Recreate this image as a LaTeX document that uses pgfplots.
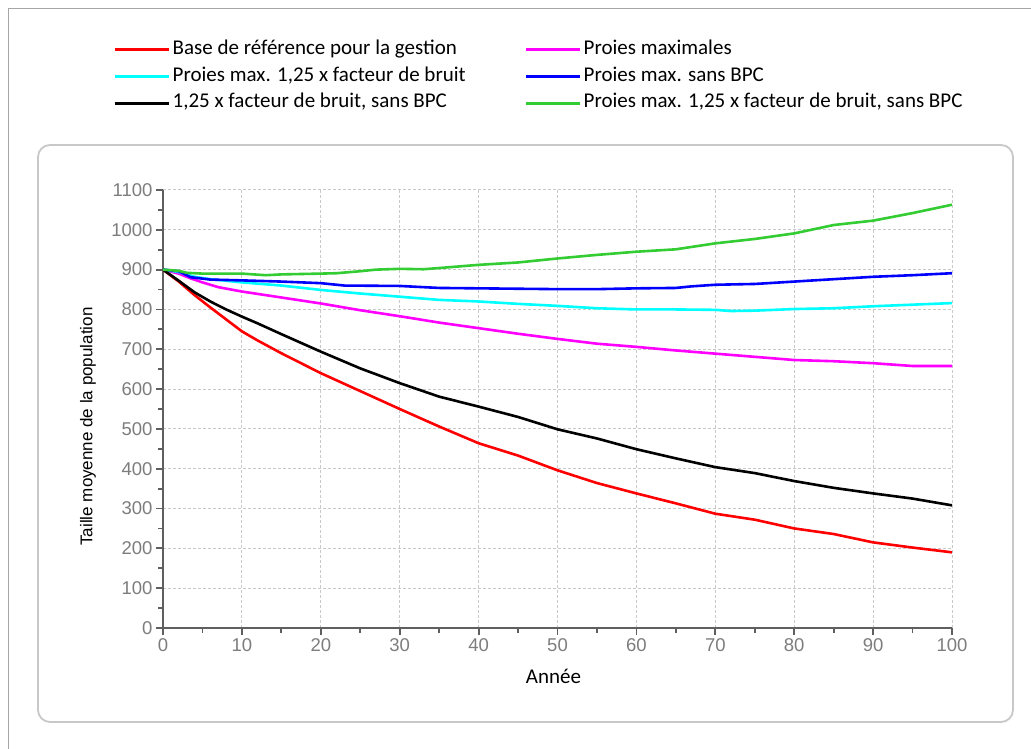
\documentclass[border=0pt]{standalone}
\usepackage{fontspec}
\setmainfont{Liberation Sans}
\newfontfamily\calibri{Carlito}
\usepackage{pgfplots}
\pgfplotsset{compat=1.18}
\definecolor{mygreen}{RGB}{51,204,51}
\definecolor{myred}{RGB}{255,0,0}
\definecolor{mymagenta}{RGB}{255,0,255}
\definecolor{mycyan}{RGB}{0,255,255}
\definecolor{myblue}{RGB}{0,0,255}
\definecolor{axisgray}{RGB}{95,95,95}
\definecolor{tickgray}{RGB}{125,125,125}
\definecolor{gridgray}{RGB}{200,200,200}
\definecolor{framegray}{RGB}{200,200,200}
\begin{document}
\begin{tikzpicture}[x=1pt,y=1pt]
\fill[white] (0,0) rectangle (1031,749);
\useasboundingbox (0,0) rectangle (1031,749);
\draw[gray!70, line width=1pt] (8,0) -- (8,740) -- (1031,740);
\draw[framegray, line width=1.8pt, rounded corners=12pt] (38,27) rectangle (1013,604);
\begin{axis}[
  at={(163pt,121pt)}, anchor=south west,
  scale only axis, width=789pt, height=438pt,
  xmin=0, xmax=100, ymin=0, ymax=1100,
  xtick distance=10, ytick distance=100,
  minor x tick num=1, minor y tick num=1,
  axis lines=left,
  axis line style={-, draw=axisgray, line width=2.2pt},
  tick align=outside,
  major tick length=7pt, minor tick length=5pt,
  every tick/.style={draw=axisgray, line width=1.8pt},
  grid=major,
  major grid style={draw=gridgray, line width=1pt, dash pattern=on 3pt off 2pt},
  /pgf/number format/assume math mode=true,
  /pgf/number format/1000 sep={},
  ticklabel style={font=\fontsize{18.5}{22}\selectfont, text=tickgray},
  xlabel={\calibri Année},
  ylabel={Taille moyenne de la population},
  xlabel style={font=\fontsize{21}{25}\selectfont, at={(axis description cs:0.495,-0.11)}, anchor=center},
  ylabel style={font=\fontsize{17}{20}\selectfont, at={(axis description cs:-0.095,0.46)}, anchor=center, rotate=0},
  legend columns=2,
  legend cell align=left,
  legend style={at={(axis description cs:-0.0634,1.342)}, anchor=north west, draw=none, fill=none, inner sep=0pt,
    font=\calibri\fontsize{21}{25}\selectfont,
    nodes={inner xsep=2.5pt, inner ysep=0pt, text height=14pt, text depth=5pt},
    /tikz/row sep=7.8pt,
    /tikz/every even column/.append style={column sep=56pt}},
  legend image code/.code={\draw[#1, line width=3pt] (0pt,0pt) -- (54pt,0pt);},
  every axis plot/.append style={line width=2.6pt},
]
\addplot[myred] coordinates {(0,900)(2,870)(4,836)(6,805)(8,775)(10,745)(12,722)(15,690)(20,640)(25,595)(30,550)(35,506)(40,464)(45,433)(50,396)(55,364)(60,338)(65,313)(70,287)(75,272)(80,250)(85,236)(90,215)(95,202)(100,190)};
\addlegendentry{Base de référence pour la gestion}
\addplot[mymagenta] coordinates {(0,900)(2,890)(3.5,878)(5,868)(7,856)(10,845)(15,830)(20,815)(25,798)(30,783)(35,767)(40,753)(45,739)(50,726)(55,714)(60,706)(65,697)(70,689)(75,681)(80,673)(85,670)(90,665)(95,658)(100,658)};
\addlegendentry{Proies maximales}
\addplot[mycyan] coordinates {(0,900)(2,894)(4,882)(6,876)(10,868)(15,860)(20,849)(25,840)(30,832)(35,824)(40,820)(45,814)(50,809)(55,803)(60,800)(65,800)(70,799)(72,796)(75,797)(80,801)(85,803)(90,808)(95,812)(100,816)};
\addlegendentry{Proies max. 1,25 x facteur de bruit}
\addplot[myblue] coordinates {(0,900)(2,896)(3.5,881)(6,875)(10,873)(15,870)(20,866)(23,860)(30,859)(35,854)(40,853)(45,852)(50,851)(55,851)(60,853)(65,854)(67,858)(70,862)(75,864)(80,870)(85,876)(90,882)(95,886)(100,891)};
\addlegendentry{Proies max. sans BPC}
\addplot[black] coordinates {(0,900)(2,872)(4,843)(6,820)(8,800)(10,782)(12,765)(15,738)(20,694)(25,652)(30,615)(35,581)(40,556)(45,530)(50,499)(55,476)(60,449)(65,426)(70,404)(75,389)(80,369)(85,352)(90,338)(95,325)(100,308)};
\addlegendentry{1,25 x facteur de bruit, sans BPC}
\addplot[mygreen] coordinates {(0,900)(2,897)(3,892)(5,890)(10,890)(13,886)(15,888)(20,890)(22,891)(25,896)(27,900)(30,902)(33,901)(35,904)(40,912)(45,918)(50,928)(55,937)(60,945)(65,951)(70,966)(75,977)(80,991)(85,1012)(90,1023)(95,1042)(100,1063)};
\addlegendentry{Proies max. 1,25 x facteur de bruit, sans BPC}
\end{axis}
\end{tikzpicture}
\end{document}
